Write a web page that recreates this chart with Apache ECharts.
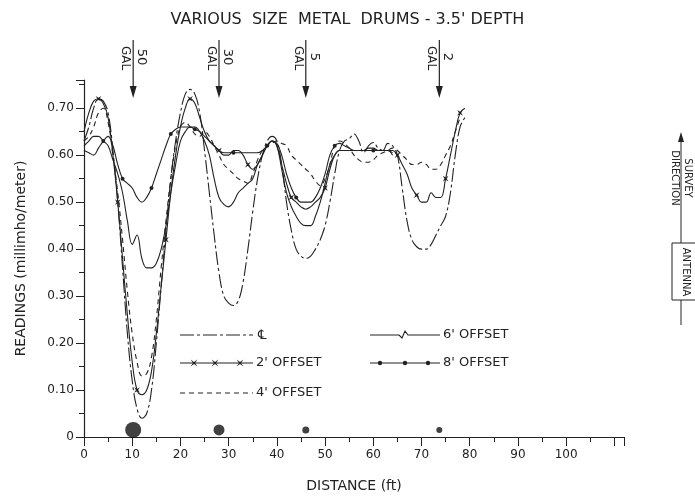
<!DOCTYPE html>
<html>
<head>
<meta charset="utf-8">
<script src="https://cdn.jsdelivr.net/npm/echarts@6/dist/echarts.min.js"></script>
<style>
html,body{margin:0;padding:0;background:#fff}
#chart{width:695px;height:499px}
</style>
</head>
<body>
<div id="chart"></div>
<script>
/* readings along the survey line, every foot */
var distance = [0,1,2,3,4,5,6,7,8,9,10,11,12,13,14,15,16,17,18,19,20,21,22,23,24,25,26,27,28,29,30,31,32,33,34,35,36,37,38,39,40,41,42,43,44,45,46,47,48,49,50,51,52,53,54,55,56,57,58,59,60,61,62,63,64,65,66,67,68,69,70,71,72,73,74,75,76,77,78,79];
var centerLine = [0.63,0.66,0.70,0.72,0.715,0.69,0.61,0.50,0.36,0.22, 0.12,0.06,0.04,0.05,0.10,0.20,0.32,0.44,0.55,0.63, 0.69,0.73,0.74,0.73,0.69,0.61,0.52,0.43,0.35,0.30, 0.285,0.28,0.29,0.33,0.40,0.48,0.55,0.60,0.63,0.64, 0.63,0.58,0.50,0.44,0.40,0.385,0.38,0.385,0.40,0.42, 0.45,0.50,0.56,0.61,0.63,0.635,0.645,0.63,0.605,0.62, 0.627,0.615,0.61,0.625,0.62,0.60,0.53,0.46,0.42,0.405, 0.40,0.40,0.41,0.43,0.45,0.47,0.52,0.60,0.66,0.68];
var offset2 = [0.65,0.69,0.715,0.72,0.71,0.68,0.60,0.50,0.38,0.26, 0.16,0.10,0.09,0.10,0.14,0.22,0.32,0.42,0.52,0.60, 0.66,0.70,0.72,0.71,0.68,0.65,0.63,0.62,0.61,0.60, 0.60,0.61,0.61,0.60,0.58,0.57,0.58,0.60,0.62,0.63, 0.62,0.58,0.54,0.51,0.50,0.49,0.485,0.49,0.50,0.51, 0.53,0.57,0.60,0.61,0.61,0.61,0.61,0.61,0.61,0.61, 0.61,0.61,0.61,0.61,0.61,0.60,0.58,0.56,0.53,0.515, 0.50,0.50,0.52,0.51,0.51,0.55,0.60,0.65,0.69,0.70];
var offset4 = [0.63,0.64,0.66,0.69,0.70,0.67,0.60,0.52,0.42,0.31, 0.22,0.16,0.13,0.135,0.17,0.25,0.36,0.46,0.55,0.62, 0.66,0.67,0.66,0.645,0.64,0.65,0.64,0.62,0.60,0.58, 0.57,0.56,0.55,0.545,0.54,0.56,0.59,0.61,0.62,0.625, 0.63,0.625,0.62,0.60,0.59,0.58,0.57,0.56,0.545,0.535, 0.55,0.58,0.62,0.63,0.625,0.615,0.60,0.59,0.585,0.585, 0.59,0.60,0.605,0.61,0.615,0.61,0.60,0.59,0.58,0.58, 0.585,0.58,0.57,0.57,0.58,0.60,0.62,0.65,0.68,null];
var offset6 = [0.62,0.63,0.64,0.64,0.63,0.62,0.59,0.56,0.52,0.46, 0.41,0.43,0.38,0.36,0.36,0.37,0.40,0.45,0.52,0.58, 0.63,0.65,0.66,0.66,0.65,0.63,0.60,0.55,0.51,0.495, 0.49,0.50,0.52,0.53,0.54,0.55,0.58,0.60,0.62,0.63, 0.62,0.57,0.52,0.49,0.47,0.455,0.45,0.45,0.47,0.50, 0.54,0.58,0.60,0.61,0.61,0.61,0.61,0.61,0.61,0.615, 0.615,0.61,0.61,0.61,0.605,null,null,null,null,null, null,null,null,null,null,null,null,null,null,null];
var offset8 = [0.61,0.605,0.60,0.615,0.63,0.64,0.62,0.58,0.55,0.54, 0.53,0.51,0.50,0.51,0.53,0.56,0.59,0.62,0.645,0.655, 0.66,0.66,0.66,0.655,0.65,0.64,0.63,0.62,0.61,0.605, 0.605,0.605,0.605,0.605,0.605,0.605,0.605,0.61,0.62,0.63, 0.625,0.60,0.56,0.53,0.51,0.50,0.50,0.50,0.51,0.53, 0.56,0.60,0.62,0.625,0.62,0.615,0.61,0.61,0.61,0.61, 0.61,0.61,0.61,0.61,0.60,null,null,null,null,null, null,null,null,null,null,null,null,null,null,null];
var marks2 = [3,7,11,17,22,28,34,43,50,65,69,75,78];
var marks8 = [4,8,14,18,23,31,38,44,52,60];

/* buried drums */
var drumFt = [10.2,28,46,73.7];
var drumGal = ['50','30','5','2'];
var drumSize = [16,11,7,6];

var ink = '#222';
var chart = echarts.init(document.getElementById('chart'));

function pts(vals, marks){
    var out = [];
    for (var i = 0; i < distance.length; i++) {
        if (vals[i] == null) continue;
        var item = {value:[distance[i], vals[i]]};
        if (!marks || marks.indexOf(distance[i]) < 0) item.symbol = 'none';
        out.push(item);
    }
    return out;
}

function lineSeries(name, vals, dash, marks, symbol, size, rot){
    return {
        name:name,
        type:'line',
        smooth:0.4,
        data:pts(vals, marks),
        symbol:symbol || 'none',
        symbolSize:size || 6,
        symbolRotate:rot || 0,
        showSymbol:!!marks,
        lineStyle:{color:ink, width:1.1, type:dash},
        itemStyle:{color:ink},
        emphasis:{disabled:true},
        z:3
    };
}

var star = 'path://M5,0L6,4L10,5L6,6L5,10L4,6L0,5L4,4Z';

var option = {
    animation:false,
    backgroundColor:'#fff',
    title:{
        text:"VARIOUS  SIZE  METAL  DRUMS - 3.5' DEPTH",
        left:'center', top:7,
        textStyle:{color:ink, fontSize:16, fontWeight:'normal', fontFamily:'DejaVu Sans'}
    },
    grid:{left:84, top:80, width:540, height:357},
    xAxis:{
        type:'value', min:0, max:112, interval:10,
        name:'DISTANCE (ft)', nameLocation:'middle', nameGap:42,
        nameTextStyle:{color:ink, fontSize:14, fontFamily:'DejaVu Sans'},
        axisLine:{lineStyle:{color:ink, width:1.2}},
        axisTick:{length:9, lineStyle:{color:ink}},
        minorTick:{show:true, splitNumber:2, length:5, lineStyle:{color:ink}},
        axisLabel:{color:ink, fontSize:12, fontFamily:'DejaVu Sans', margin:12,
            formatter:function(v){ return v > 100 ? '' : v; }},
        splitLine:{show:false}
    },
    yAxis:{
        type:'value', min:0, max:0.76, interval:0.1,
        name:'READINGS (millimho/meter)', nameLocation:'middle', nameGap:56,
        nameTextStyle:{color:ink, fontSize:14, fontFamily:'DejaVu Sans'},
        axisLine:{show:true, lineStyle:{color:ink, width:1.2}},
        axisTick:{show:true, length:8, lineStyle:{color:ink}},
        minorTick:{show:true, splitNumber:2, length:5, lineStyle:{color:ink}},
        axisLabel:{color:ink, fontSize:12, fontFamily:'DejaVu Sans', margin:10,
            formatter:function(v){
                if (Math.abs(v * 10 - Math.round(v * 10)) > 1e-6) return '';
                return v === 0 ? '0' : v.toFixed(2);
            }},
        splitLine:{show:false}
    },
    series:[
        lineSeries('CL', centerLine, [14,3,3,3]),
        lineSeries("2' OFFSET", offset2, 'solid', marks2, star, 8, 45),
        lineSeries("4' OFFSET", offset4, [5,4]),
        lineSeries("6' OFFSET", offset6, 'solid'),
        lineSeries("8' OFFSET", offset8, 'solid', marks8, 'circle', 4),
        {
            name:'drums', type:'scatter',
            data:drumFt.map(function(d,i){ return {value:[d,0.015], symbolSize:drumSize[i]}; }),
            itemStyle:{color:'#111'},
            emphasis:{disabled:true},
            z:4
        }
    ]
};
chart.setOption(option);

var g = [];
var txt = '13px DejaVu Sans';

/* drum arrows above the plot */
drumFt.forEach(function(d,i){
    var x = chart.convertToPixel({gridIndex:0}, [d,0])[0];
    g.push({type:'line', shape:{x1:x, y1:40, x2:x, y2:92}, style:{stroke:ink, lineWidth:1.2}});
    g.push({type:'polygon', shape:{points:[[x-3.5,86],[x+3.5,86],[x,98]]}, style:{fill:ink}});
    g.push({type:'text', x:x+2, y:57, rotation:-Math.PI/2,
        style:{text:drumGal[i], fill:ink, font:txt, align:'center', verticalAlign:'bottom'}});
    g.push({type:'text', x:x-2, y:58, rotation:-Math.PI/2,
        style:{text:'GAL', fill:ink, font:'12px DejaVu Sans', align:'center', verticalAlign:'top'}});
});

/* hand-drawn style legend */
function starAt(x, y){
    var r = 3.5, s = 1;
    return {type:'polygon', shape:{points:[[x-r,y-r],[x,y-s],[x+r,y-r],[x+s,y],[x+r,y+r],[x,y+s],[x-r,y+r],[x-s,y]]}, style:{fill:ink}};
}
function label(x, y, t){
    return {type:'text', x:x, y:y, style:{text:t, fill:ink, font:txt, align:'left', verticalAlign:'middle'}};
}
g.push({type:'line', shape:{x1:180, y1:335, x2:253, y2:335}, style:{stroke:ink, lineWidth:1.1, lineDash:[14,3,3,3]}});
g.push(label(258, 336, '\u2104'));
g.push({type:'line', shape:{x1:180, y1:363, x2:253, y2:363}, style:{stroke:ink, lineWidth:1.1}});
g.push(starAt(194, 363), starAt(215, 363), starAt(240, 363));
g.push(label(256, 363, "2' OFFSET"));
g.push({type:'line', shape:{x1:180, y1:393, x2:253, y2:393}, style:{stroke:ink, lineWidth:1.1, lineDash:[5,4]}});
g.push(label(256, 393, "4' OFFSET"));
g.push({type:'polyline', shape:{points:[[370,335],[399,335],[402,338],[405,331],[408,335],[440,335]]}, style:{stroke:ink, lineWidth:1.1, fill:null}});
g.push(label(443, 335, "6' OFFSET"));
g.push({type:'line', shape:{x1:370, y1:363, x2:440, y2:363}, style:{stroke:ink, lineWidth:1.1}});
[380, 405, 428].forEach(function(x){ g.push({type:'circle', shape:{cx:x, cy:363, r:2.2}, style:{fill:ink}}); });
g.push(label(443, 363, "8' OFFSET"));

/* survey direction sketch */
g.push({type:'line', shape:{x1:681, y1:140, x2:681, y2:325}, style:{stroke:ink, lineWidth:1}});
g.push({type:'polygon', shape:{points:[[678,142],[684,142],[681,132]]}, style:{fill:ink}});
g.push({type:'rect', shape:{x:672, y:243, width:40, height:57}, style:{fill:'#fff', stroke:ink, lineWidth:1}});
g.push({type:'text', x:681, y:178, rotation:-Math.PI/2,
    style:{text:'SURVEY\nDIRECTION', fill:ink, font:'10px DejaVu Sans', align:'center', verticalAlign:'middle', lineHeight:13}});
g.push({type:'text', x:686, y:272, rotation:-Math.PI/2,
    style:{text:'ANTENNA', fill:ink, font:'10px DejaVu Sans', align:'center', verticalAlign:'middle'}});
chart.setOption({graphic:g});
</script>
</body>
</html>
